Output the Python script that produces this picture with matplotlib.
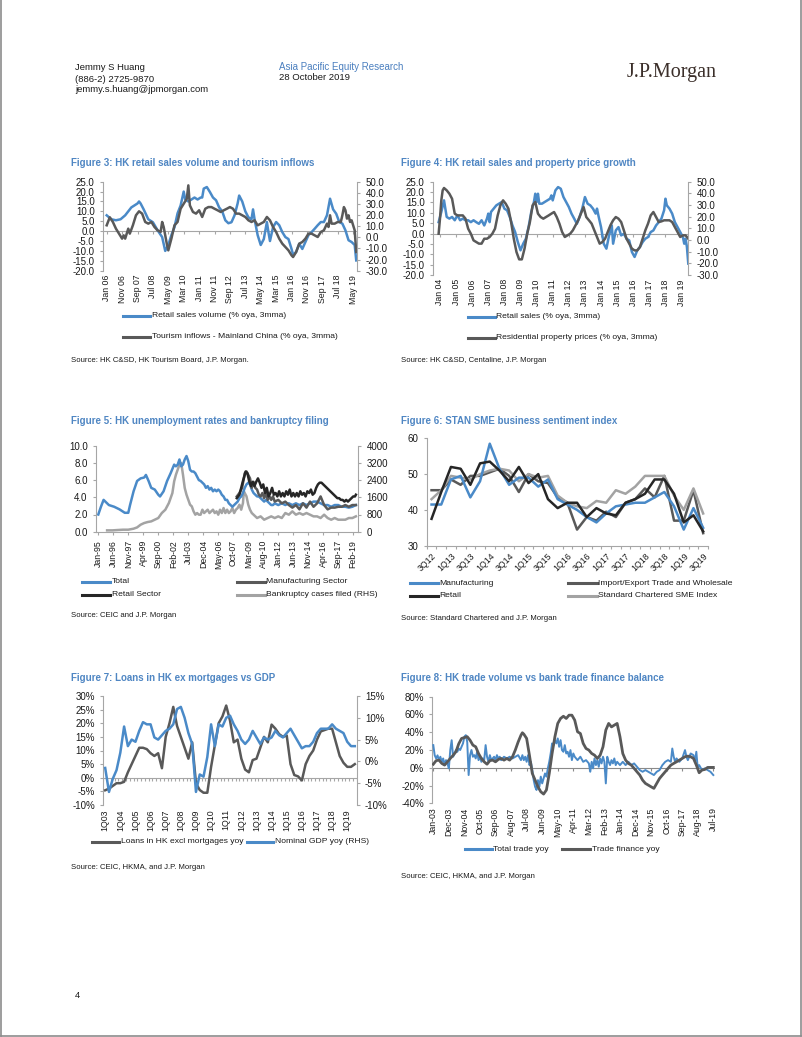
import matplotlib.pyplot as plt
import numpy as np
from matplotlib.lines import Line2D
from matplotlib.ticker import FormatStrFormatter

plt.rcParams['font.family'] = ['Liberation Sans', 'DejaVu Sans']

W, H = 802, 1037
BLUE = '#4a8ac8'
DARK = '#595959'
BLACK = '#262626'
LGREY = '#a3a3a3'
TITLE_BLUE = '#4f86c3'
AXIS_GREY = '#a6a6a6'
TXT = '#1a1a1a'

# ---------------- data ----------------
# Figure 3: months since Jan 2006
fig3_labels = ['Jan 06', 'Nov 06', 'Sep 07', 'Jul 08', 'May 09', 'Mar 10', 'Jan 11', 'Nov 11', 'Sep 12',
               'Jul 13', 'May 14', 'Mar 15', 'Jan 16', 'Nov 16', 'Sep 17', 'Jul 18', 'May 19']
fig3_retail_m = [0, 3, 6, 9, 12, 14, 16, 18, 20, 21, 22, 24, 27, 30, 33, 36, 38, 40, 42, 44, 46, 48, 50, 51,
                 53, 55, 57, 59, 61, 62, 63, 65, 67, 69, 71, 73, 75, 77, 79, 81, 83, 85, 86, 88, 90, 92, 94,
                 95, 96, 98, 100, 102, 104, 105, 106, 108, 110, 112, 114, 116, 118, 120, 121, 123, 125, 127,
                 129, 131, 133, 135, 137, 139, 141, 143, 145, 147, 149, 151, 153, 155, 157, 159, 161, 162]
fig3_retail_v = [8, 6, 5.5, 6, 8, 10, 12, 13, 14, 15, 14, 11, 6, 4.5, 0.5, -3, -10, -7, -2, 2, 9, 13, 20, 16,
                 15, 16, 17, 16, 17, 17, 21.5, 22.3, 19.8, 17, 15.6, 12, 10, 5.5, 4, 4.5, 8, 14, 18, 15, 10,
                 7, 6, 11, 6, -2, -7, -4, 4.6, -0.5, -5, 2, 4.6, 3, -0.5, -3, -4, -9, -12, -10.5, -6.4, -9,
                 -5.5, -2, -0.5, 1.2, 3, 4.6, 4.6, 8, 16.4, 11, 8.8, 4.6, 3.8, 0.4, -4.6, -5.5, -7, -14.8]
fig3_tour_m = [0, 2, 4, 6, 8, 10, 11, 12, 14, 15, 17, 19, 21, 23, 25, 27, 29, 31, 33, 35, 36, 37, 39, 40, 42,
               44, 46, 48, 50, 52, 53, 54, 56, 58, 60, 62, 64, 66, 68, 70, 72, 74, 76, 78, 80, 82, 84, 86,
               88, 90, 92, 94, 96, 98, 100, 102, 104, 106, 108, 110, 112, 114, 116, 118, 120, 121, 123,
               125, 127, 129, 131, 133, 135, 137, 139, 141, 143, 144, 145, 146, 148, 150, 152, 153, 154,
               155, 156, 157, 158, 159, 160, 161, 162]
fig3_tour_v = [10.8, 18, 13.8, 7.8, 3.3, -1.2, 1.8, -1.2, 7.8, 3.3, 10.8, 19.8, 23.4, 21.3, 13.8, 12.3, 13.8,
               9.3, 6.3, 4.8, 13.8, 9.3, -5.7, -11.7, -1.2, 10.8, 13.8, 25.7, 30.2, 34.7, 46.7, 28.7, 22.8,
               21.3, 24.3, 18.3, 25.7, 27.2, 27.2, 25.7, 24.3, 22.8, 24.3, 25.7, 27.2, 25.7, 21.3, 21.3,
               19.8, 18.3, 15.3, 13.8, 15.3, 10.8, 12.3, 13.8, 18.3, 15.3, 9.3, 4.8, -1.2, -5.7, -8.7,
               -11.7, -16.2, -17.7, -13.2, -5.7, -4.2, -1.2, 3.3, 3.3, 1.8, 0.3, 4.8, 6.3, 12.3, 9.3, 19.8,
               12.3, 12.3, 13.8, 13.8, 19.8, 27.2, 24.3, 16.8, 19.8, 13.8, 15.3, 10.8, 6.3, -13.2]

# Figure 4: months since Jan 2004
fig4_labels = ['Jan ' + f'{y:02d}' for y in range(4, 20)]
fig4_retail_m = [-1, 1, 3, 5, 7, 9, 11, 13, 15, 17, 19, 21, 23, 25, 27, 29, 31, 33, 35, 36, 37, 38, 40, 42,
                 44, 46, 48, 50, 52, 54, 56, 58, 60, 62, 64, 66, 68, 70, 71, 72, 73, 74, 76, 78, 80, 82, 83,
                 84, 86, 88, 90, 92, 94, 96, 98, 100, 102, 104, 106, 108, 110, 112, 114, 116, 117, 118, 120,
                 122, 124, 126, 128, 129, 131, 133, 135, 137, 139, 141, 143, 145, 147, 149, 151, 153, 155,
                 157, 159, 161, 163, 165, 167, 168, 169, 171, 173, 175, 177, 179, 181, 182, 183, 184, 185]
fig4_retail_v = [5.5, 10.4, 16, 8, 7.2, 8, 6.4, 8.8, 6.4, 7.2, 6.4, 6.4, 5.5, 6.4, 5.5, 4.7, 6.4, 3.9, 7.2, 9.6,
                 5.5, 10.4, 12, 13.6, 14.4, 15.2, 12, 11.2, 8, 3.9, 0.7, -4.1, -8.1, -4.9, -2.5, 3.1, 10.4,
                 15.2, 19.2, 15.2, 19.2, 14.4, 14.4, 15.2, 16, 16.8, 18.4, 16, 20.8, 22.4, 21.6, 17.6, 15.2,
                 12.8, 9.6, 7.2, 4.7, 8, 12, 17.6, 14.4, 13.6, 12, 9.6, 12, 8.8, 3.1, -4.9, -7.3, -0.9, 3.9,
                 -4.9, 1.5, 3.1, -0.9, -0.1, -2.5, -3.3, -8.9, -11.3, -8.1, -6.5, -4.1, -2.5, -1.7, 0.7, 1.5,
                 3.9, 5.5, 7.2, 11.2, 16.8, 13.6, 12, 9.6, 5.5, 3.1, 0.7, -1.7, -4.9, -2.5, -6.5, -14.5]
fig4_prop_m = [-1, 0, 1, 2, 3, 5, 7, 9, 11, 13, 15, 17, 19, 21, 23, 25, 27, 29, 31, 33, 35, 37, 39, 41, 43, 45,
               47, 49, 51, 53, 55, 57, 59, 61, 63, 65, 67, 69, 71, 73, 75, 77, 79, 81, 83, 85, 87, 89, 91,
               93, 95, 97, 99, 101, 103, 105, 107, 109, 111, 113, 115, 117, 119, 121, 123, 125, 127, 129,
               131, 133, 135, 137, 139, 141, 143, 145, 147, 149, 151, 153, 155, 157, 159, 161, 163, 165,
               167, 169, 171, 173, 175, 177, 179, 181, 183, 185]
fig4_prop_v = [5.4, 18.3, 34, 42.6, 44.6, 42.6, 39.7, 35.4, 22.6, 21.1, 21.1, 21.1, 18.3, 9.7, 5.4, -0.3, -1.7,
               -3.1, -3.1, 1.1, 1.1, 2.6, 5.4, 9.7, 21.1, 29.7, 34, 31.1, 26.9, 15.4, 1.1, -10.3, -16.6,
               -16.6, -7.4, 5.4, 15.4, 29.7, 32.6, 22.6, 19.7, 18.3, 19.7, 21.1, 22.6, 24, 19.7, 14, 6.9,
               2.6, 4, 5.4, 8.3, 12.6, 16.9, 22.6, 28.3, 19.7, 16.9, 14, 8.3, 2.6, -3.1, -1.7, 1.1, 6.9,
               12.6, 16.9, 19.7, 18.3, 15.4, 8.3, 1.1, -3.1, -7.4, -8.9, -8.9, -6, 1.1, 8.3, 14, 21.1, 24,
               19.7, 15.4, 16, 16.9, 16.9, 16.9, 15.4, 11.1, 6.9, 2.6, 4, 4, 1.1]

# Figure 5: months since Jan 1995
fig5_labels = ['Jan-95', 'Jun-96', 'Nov-97', 'Apr-99', 'Sep-00', 'Feb-02', 'Jul-03', 'Dec-04', 'May-06',
               'Oct-07', 'Mar-09', 'Aug-10', 'Jan-12', 'Jun-13', 'Nov-14', 'Apr-16', 'Sep-17', 'Feb-19']
fig5_total_m = [0, 3, 6, 12, 18, 24, 30, 34, 36, 40, 44, 48, 52, 54, 57, 60, 64, 68, 70, 74, 78, 82, 86, 88,
                90, 92, 94, 96, 98, 100, 102, 104, 106, 108, 110, 112, 114, 116, 118, 120, 122, 124, 126,
                128, 130, 132, 134, 136, 138, 140, 142, 144, 146, 148, 150, 152, 154, 156, 158, 160, 162,
                164, 166, 168, 170, 172, 174, 176, 178, 180, 182, 184, 186, 188, 190, 192, 194, 196, 198,
                200, 204, 208, 212, 216, 220, 224, 228, 232, 236, 240, 244, 248, 252, 256, 260, 264, 268,
                272, 276, 280, 284, 288, 292]
fig5_total_v = [2.0, 2.9, 3.7, 3.1, 2.9, 2.6, 2.2, 2.2, 3.1, 4.7, 5.9, 6.2, 6.3, 6.6, 5.9, 5.1, 4.9, 4.3, 4.1,
                4.7, 5.9, 6.8, 7.8, 7.6, 7.8, 8.4, 7.6, 7.8, 8.4, 8.8, 8.2, 7.2, 7.0, 7.0, 6.8, 6.4, 6.0,
                5.9, 5.7, 5.5, 5.1, 5.3, 4.9, 5.1, 4.7, 4.9, 4.7, 4.9, 4.7, 4.3, 4.1, 3.7, 3.7, 3.3, 3.1,
                2.9, 3.1, 3.3, 3.5, 3.9, 4.1, 4.5, 5.1, 5.5, 5.7, 5.5, 4.9, 4.5, 4.3, 4.1, 4.1, 3.9, 3.7,
                3.5, 3.7, 3.5, 3.3, 3.1, 3.1, 3.3, 3.1, 3.3, 3.1, 3.3, 3.1, 3.3, 3.1, 3.3, 3.1, 3.3, 3.5,
                3.5, 3.3, 3.1, 3.1, 2.9, 3.1, 3.1, 2.9, 2.9, 2.8, 2.9, 3.1]
fig5_manu_m = [157, 160, 163, 165, 166, 168, 170, 172, 174, 176, 178, 180, 182, 184, 186, 188, 190, 192, 194,
               196, 198, 200, 204, 208, 212, 216, 220, 224, 228, 232, 236, 240, 244, 248, 252, 256, 260,
               264, 268, 272, 276, 280, 284, 288, 292]
fig5_manu_v = [4.1, 4.5, 5.1, 6.2, 6.8, 7.0, 6.6, 6.2, 5.1, 5.8, 5.1, 4.9, 4.3, 4.1, 4.5, 3.9, 4.5, 3.7, 4.1,
               3.7, 4.1, 3.5, 3.7, 3.3, 3.5, 3.1, 2.8, 3.1, 2.6, 3.3, 2.8, 3.5, 2.9, 3.3, 4.1, 3.1, 2.6,
               2.8, 2.8, 2.9, 2.9, 3.1, 2.9, 3.1, 3.1]
fig5_retail_m = [157, 160, 162, 164, 166, 167, 169, 171, 173, 175, 177, 179, 181, 183, 185, 187, 189, 191,
                 193, 195, 197, 199, 201, 203, 205, 207, 209, 211, 213, 215, 217, 219, 221, 223, 225, 227,
                 229, 231, 233, 235, 237, 239, 241, 243, 245, 247, 249, 251, 253, 255, 257, 259, 261, 263,
                 265, 267, 269, 271, 273, 275, 277, 279, 281, 283, 285, 287, 289, 291, 292]
fig5_retail_v = [3.9, 4.3, 5.1, 5.9, 6.6, 7.0, 6.8, 5.9, 5.3, 5.8, 5.3, 5.8, 6.2, 5.7, 5.1, 5.5, 4.5, 5.1, 4.1,
                 4.5, 5.1, 4.3, 4.5, 4.1, 4.7, 4.1, 4.5, 4.1, 4.7, 4.3, 4.9, 4.1, 4.5, 4.1, 4.5, 4.1, 4.7,
                 4.3, 4.5, 4.1, 4.7, 4.5, 4.9, 4.3, 4.5, 5.1, 5.5, 5.7, 5.7, 5.5, 5.3, 5.1, 4.9, 4.7, 4.5,
                 4.3, 4.1, 3.9, 3.9, 3.7, 3.7, 3.5, 3.7, 3.5, 3.7, 3.9, 4.1, 4.1, 4.3]
fig5_bank_m = [10, 16, 22, 28, 34, 40, 44, 48, 52, 56, 60, 64, 68, 72, 76, 80, 84, 86, 88, 90, 92, 94, 96, 98,
               100, 102, 104, 106, 108, 110, 112, 114, 116, 118, 120, 122, 124, 126, 128, 130, 132, 134,
               136, 138, 140, 142, 144, 146, 148, 150, 152, 154, 156, 158, 160, 162, 164, 165, 166, 168,
               170, 172, 174, 176, 178, 180, 184, 188, 192, 196, 200, 204, 208, 212, 216, 220, 224, 228,
               232, 236, 240, 244, 248, 252, 256, 260, 264, 268, 272, 276, 280, 284, 288, 292]
fig5_bank_v = [62, 62, 78, 93, 93, 140, 200, 326, 403, 450, 480, 558, 636, 868, 1023, 1333, 1798, 2341, 2651,
               2884, 3116, 3194, 2651, 2031, 1721, 1488, 1256, 1178, 946, 791, 868, 791, 791, 1023, 868,
               946, 1023, 868, 946, 1023, 868, 946, 791, 1023, 868, 1101, 868, 1023, 868, 946, 1101, 868,
               1023, 1101, 1256, 1023, 1333, 1876, 1798, 1643, 1256, 1023, 868, 791, 713, 636, 713, 558,
               636, 713, 636, 713, 636, 868, 791, 946, 791, 868, 791, 868, 791, 713, 713, 636, 791, 636,
               558, 636, 558, 558, 558, 636, 636, 713]

# Figure 6: quarterly, 3Q12 to 3Q19
fig6_quarters = [f'{q}Q{y:02d}' for y in range(12, 20) for q in range(1, 5)][2:31]
fig6_manu = [41.5, 41.5, 48.5, 49.5, 43.5, 48, 58.5, 51.5, 47, 49, 49, 46.5, 48.5, 43, 41.5, 40, 38, 36.5,
             39, 41, 41.5, 42, 42, 43.5, 45, 41, 34.5, 40.5, 35]
fig6_trade = [45.5, 45.5, 48.5, 47, 49.5, 49.5, 50.5, 51.5, 49.5, 45, 50, 48, 47.5, 43.5, 42, 34.5, 38, 37,
              39.5, 38, 42, 43, 46, 43.5, 49.5, 37, 37, 45.5, 33.5]
fig6_retail = [37.5, 45, 52, 51.5, 47, 53, 53.5, 51, 48, 52, 47.5, 50, 43, 40.5, 42, 42, 38, 40.5, 39, 38.5,
               42, 43, 44.5, 48.5, 48.5, 44.5, 36.5, 38.5, 34]
fig6_sme = [43, 45.5, 49.5, 49, 48.5, 50, 51, 51.5, 51, 48, 50, 49, 49.5, 44, 42, 41, 40.5, 42.5, 42, 45.5,
            44.5, 46.5, 49.5, 49.5, 49.5, 44, 40, 46, 39]

# Figure 7: quarterly, 1Q03 to 3Q19
fig7_quarters = [f'{q}Q{y:02d}' for y in range(3, 20) for q in range(1, 5)][:67]
fig7_loans = [-4.6, -4, -3, -2, -2, -1.5, 2, 5, 8, 11, 11, 10.5, 9, 8, 9, 3.5, 15, 20, 26, 19, 15, 11, 7, 13,
              -2, -4.5, -5.5, -5.5, 4, 12, 20, 22.5, 26.5, 21, 13, 14, 7, 3, 2, 6.5, 7, 11, 15, 13, 19.5, 18,
              16, 15, 15.5, 5, 1, 0.5, -1, 5, 8, 10, 14, 17, 17.5, 18, 18, 13, 8, 5.5, 4, 4, 5]
fig7_gdp = [-1.5, -7, -4, -2, 2, 8, 3.5, 5, 4.5, 7, 9, 8.5, 8.5, 5.5, 5, 6, 7, 7.5, 8.5, 12, 12.5, 10, 6.5, 4,
            -7, -3, -3.5, 1, 8.5, 3.5, 8.5, 8, 10, 10.5, 8.5, 7, 5, 4, 5, 7, 5.5, 4, 5.5, 5, 5.5, 7, 6, 5.5,
            6.5, 7.5, 6, 4.5, 3, 3.5, 3.5, 4.5, 6.5, 7.5, 7.5, 7.5, 8.5, 7.5, 7, 6.5, 4.5, 3.5, 3.5]

# Figure 8: months since Jan 2003
fig8_labels = ['Jan-03', 'Dec-03', 'Nov-04', 'Oct-05', 'Sep-06', 'Aug-07', 'Jul-08', 'Jun-09', 'May-10',
               'Apr-11', 'Mar-12', 'Feb-13', 'Jan-14', 'Dec-14', 'Nov-15', 'Oct-16', 'Sep-17', 'Aug-18',
               'Jul-19']
fig8_trade_m = [0, 1, 2, 3, 4, 5, 6, 7, 8, 9, 10, 11, 12, 13, 14, 15, 16, 17, 18, 19, 20, 21, 22, 23, 24, 25,
                26, 27, 28, 29, 30, 31, 32, 33, 34, 35, 36, 37, 38, 39, 40, 41, 42, 43, 44, 45, 46, 47, 48,
                50, 52, 54, 56, 58, 60, 62, 63, 64, 65, 66, 67, 68, 69, 70, 71, 72, 73, 74, 75, 76, 77, 78,
                79, 80, 81, 82, 83, 84, 85, 86, 87, 88, 89, 90, 91, 92, 93, 94, 95, 96, 97, 98, 99, 100,
                102, 104, 106, 108, 110, 111, 112, 113, 114, 115, 116, 117, 118, 119, 120, 121, 122, 123,
                124, 125, 126, 127, 128, 129, 130, 132, 134, 136, 138, 140, 142, 144, 146, 148, 150, 152,
                154, 156, 158, 160, 162, 164, 166, 168, 169, 170, 171, 172, 174, 176, 178, 179, 180, 182,
                184, 185, 186, 187, 188, 190, 192, 194, 196, 198]
fig8_trade_v = [25.5, 14, 10.5, 14, 8.6, 12.4, 6.7, 10.5, 3, 8.6, 4.9, -0.7, 19.9, 31, 12.4, 16, 20, 18, 21.7,
                20, 23.6, 27.4, 35, 36.7, 29, -8.2, 14.2, 20, 12.4, 14.2, 10.5, 18, 8.6, 12.4, 6.7, 10.5,
                8.6, 25.5, 12.4, 6.7, 14.2, 8.6, 10.5, 12.4, 8.6, 14.2, 10.5, 12.4, 8.6, 12.4, 10.5, 12.4,
                10.5, 12.4, 14.2, 8.6, 14.2, 8.6, 12.4, 6.7, 14.2, 3, 6.7, -2.6, -13.9, -21.4, -25, -13.9,
                -21.4, -10, -17.6, -12, -6.4, -10, -0.7, 6.7, 16.1, 27.4, 25.5, 31.1, 27.4, 33, 23.6, 31.1,
                19.9, 18, 25.5, 16.1, 18, 12.4, 19.9, 8.6, 16.1, 12.4, 8.6, 12.4, 6.7, 8.6, 4.9, -4.5, 6.7,
                -0.7, 10.5, 3, 8.6, 1.1, 10.5, 4.9, 12.4, 6.7, -17.6, 12.4, 6.7, 3, 8.6, 4.9, 10.5, 3, 6.7,
                3, 6.7, 3, 6.7, 3, 4.9, 1.1, -2.6, -4.5, -2.6, -4.5, -6.4, -8.2, -4.5, -2.6, 3, 6.7, 8.6,
                6.7, 21.7, 12.4, 6.7, 10.5, 6.7, 10.5, 19.9, 12.4, 8.6, 16.1, 14.2, 6.7, 18, -0.7, 3, -2.6,
                -0.7, -2.6, -4.5, -8.2]
fig8_fin_m = [0, 2, 4, 6, 8, 10, 12, 14, 16, 18, 20, 22, 24, 26, 28, 30, 32, 34, 36, 38, 40, 42, 44, 46, 48,
              50, 52, 54, 56, 58, 60, 62, 63, 64, 66, 68, 70, 72, 74, 76, 78, 80, 82, 84, 86, 88, 90, 92, 94,
              96, 98, 100, 102, 104, 106, 108, 110, 112, 114, 116, 118, 120, 122, 124, 126, 128, 130, 132,
              134, 136, 138, 140, 142, 144, 146, 148, 150, 152, 154, 156, 158, 160, 162, 164, 166, 168, 170,
              172, 174, 176, 178, 180, 182, 184, 186, 188, 190, 192, 194, 196, 198]
fig8_fin_v = [4, 8, 8.6, 4.9, 3, 6.7, 10.5, 14, 18, 27, 33, 34, 35, 31, 25.5, 23.6, 16, 10.5, 6.7, 4, 8, 8.6,
              6.7, 9.4, 10.5, 8.6, 10.5, 8.6, 12.4, 20, 29, 36.7, 39.4, 37.9, 33, 14, -6.4, -13.9, -21.4, -27,
              -29.6, -25, -6.4, 16, 35, 49.9, 55.5, 58, 55.5, 59.2, 59.2, 53.6, 40.5, 38.6, 27.4, 21.7, 19.9,
              16.1, 14.2, 10.5, 14.2, 23.6, 42.4, 49.9, 46, 48, 49.9, 35, 16, 8.6, 4.9, 3, -0.7, -4.5, -8.2,
              -13.9, -17.6, -19.5, -21.4, -23.2, -17.6, -12, -8.2, -4.5, -0.7, 3, 4.9, 6.7, 8.6, 10.5, 12.4,
              13.1, 12.4, 10.5, 3, -5.6, -2.6, -1.9, 0.4, 0.4, 0.4]

# ---------------- drawing ----------------
fig = plt.figure(figsize=(W / 100, H / 100), dpi=100)


def fig_text(x, y, s, **kw):
    kw.setdefault('va', 'center')
    kw.setdefault('ha', 'left')
    kw.setdefault('color', TXT)
    fig.text(x / W, 1 - y / H, s, **kw)


def legend_item(x0, x1, y, color, label, lw=2.2):
    fig.add_artist(Line2D([x0 / W, x1 / W], [1 - y / H, 1 - y / H], color=color, lw=lw))
    fig_text(x1 + 1.5, y, label, fontsize=6.1)


def make_axes(l, t, r, b):
    ax = fig.add_axes([l / W, 1 - b / H, (r - l) / W, (b - t) / H])
    ax.spines['top'].set_visible(False)
    ax.spines['right'].set_visible(False)
    for s in ['left', 'bottom']:
        ax.spines[s].set_color(AXIS_GREY)
        ax.spines[s].set_linewidth(0.8)
    ax.tick_params(colors=AXIS_GREY, labelcolor=TXT, labelsize=7, length=2.5, width=0.8)
    return ax


def make_twin(ax):
    ax2 = ax.twinx()
    for s in ['top', 'left', 'bottom']:
        ax2.spines[s].set_visible(False)
    ax2.spines['right'].set_color(AXIS_GREY)
    ax2.spines['right'].set_linewidth(0.8)
    ax2.tick_params(colors=AXIS_GREY, labelcolor=TXT, labelsize=7, length=2.5, width=0.8)
    return ax2


def zero_line(ax, ticks, color=AXIS_GREY):
    ax.spines['bottom'].set_visible(False)
    ax.axhline(0, color=color, lw=0.8, zorder=1)
    ax.plot(ticks, np.zeros(len(ticks)), ls='none', marker=3, ms=2.5, mew=0.8, color=color, zorder=1)


def bottom_labels(ax, ticks, labels, size=6.3):
    ax.set_xticks(ticks)
    ax.set_xticklabels(labels, rotation=90, fontsize=size)
    ax.tick_params(axis='x', length=0, pad=3)


# header
fig_text(75, 68, 'Jemmy S Huang', fontsize=6.8)
fig_text(75, 79, '(886-2) 2725-9870', fontsize=6.8)
fig_text(75, 90, 'jemmy.s.huang@jpmorgan.com', fontsize=6.8)
fig_text(279, 67, 'Asia Pacific Equity Research', fontsize=7, color='#4a7fbf')
fig_text(279, 78, '28 October 2019', fontsize=6.8)
fig_text(627, 72, 'J.P.Morgan', fontsize=14.5, color='#3b2f2a', family=['Liberation Serif', 'DejaVu Serif'])
fig_text(75, 995, '4', fontsize=6.8)
for xs, ys in [([1, 1], [0, 1036]), ([800.5, 800.5], [0, 1036]), ([1, 800.5], [1035.5, 1035.5])]:
    fig.add_artist(Line2D([x / W for x in xs], [1 - y / H for y in ys], color='#8c8c8c', lw=1.2))

title_kw = dict(fontsize=7, fontweight='bold', color=TITLE_BLUE)
src_kw = dict(fontsize=5.6)

# ---- Figure 3 ----
fig_text(71, 163, 'Figure 3: HK retail sales volume and tourism inflows', **title_kw)
ax = make_axes(103, 181.7, 357, 270.7)
ticks3 = np.arange(0, 161, 10)
zero_line(ax, ticks3)
ax.plot(fig3_retail_m, fig3_retail_v, color=BLUE, lw=1.8, zorder=3)
ax.set_ylim(-20, 25)
ax.set_yticks(np.arange(-20, 26, 5))
ax.yaxis.set_major_formatter(FormatStrFormatter('%.1f'))
ax.set_xlim(-2.4, 162.5)
bottom_labels(ax, ticks3, fig3_labels)
ax2 = make_twin(ax)
ax2.plot(fig3_tour_m, fig3_tour_v, color=DARK, lw=1.8)
ax2.set_ylim(-30, 50)
ax2.set_yticks(np.arange(-30, 51, 10))
ax2.yaxis.set_major_formatter(FormatStrFormatter('%.1f'))
legend_item(123, 150, 315.7, BLUE, 'Retail sales volume (% oya, 3mma)')
legend_item(123, 150, 337, DARK, 'Tourism inflows - Mainland China (% oya, 3mma)')
fig_text(71, 360.7, 'Source: HK C&SD, HK Tourism Board, J.P. Morgan.', **src_kw)

# ---- Figure 4 ----
fig_text(401, 163, 'Figure 4: HK retail sales and property price growth', **title_kw)
ax = make_axes(433, 181.7, 688, 275)
ticks4 = np.arange(0, 181, 12)
zero_line(ax, ticks4)
ax.plot(fig4_retail_m, fig4_retail_v, color=BLUE, lw=1.8, zorder=3)
ax.set_ylim(-20, 25)
ax.set_yticks(np.arange(-20, 26, 5))
ax.yaxis.set_major_formatter(FormatStrFormatter('%.1f'))
ax.set_xlim(-5.2, 184.8)
bottom_labels(ax, ticks4, fig4_labels)
ax2 = make_twin(ax)
ax2.plot(fig4_prop_m, fig4_prop_v, color=DARK, lw=1.8)
ax2.set_ylim(-30, 50)
ax2.set_yticks(np.arange(-30, 51, 10))
ax2.yaxis.set_major_formatter(FormatStrFormatter('%.1f'))
legend_item(468, 495, 316.7, BLUE, 'Retail sales (% oya, 3mma)')
legend_item(468, 495, 337.7, DARK, 'Residential property prices (% oya, 3mma)')
fig_text(401, 361, 'Source: HK C&SD, Centaline, J.P. Morgan', **src_kw)

# ---- Figure 5 ----
fig_text(71, 421, 'Figure 5: HK unemployment rates and bankruptcy filing', **title_kw)
ax = make_axes(96, 445.7, 358, 531.7)
ticks5 = np.arange(0, 290, 17)
ax.set_ylim(0, 10)
ax.set_yticks(np.arange(0, 11, 2))
ax.yaxis.set_major_formatter(FormatStrFormatter('%.1f'))
ax.set_xlim(-2.6, 294.4)
ax.set_xticks(ticks5)
ax.set_xticklabels(fig5_labels, rotation=90, fontsize=6.3)
ax2 = make_twin(ax)
ax2.plot(fig5_bank_m, fig5_bank_v, color=LGREY, lw=1.8)
ax2.set_ylim(0, 4000)
ax2.set_yticks(np.arange(0, 4001, 800))
ax.set_zorder(ax2.get_zorder() + 1)
ax.patch.set_visible(False)
ax.plot(fig5_total_m, fig5_total_v, color=BLUE, lw=1.8)
ax.plot(fig5_manu_m, fig5_manu_v, color=DARK, lw=1.8)
ax.plot(fig5_retail_m, fig5_retail_v, color=BLACK, lw=1.8)
legend_item(82, 110, 581.7, BLUE, 'Total')
legend_item(82, 110, 595, BLACK, 'Retail Sector')
legend_item(237, 265, 581.7, DARK, 'Manufacturing Sector')
legend_item(237, 265, 595, LGREY, 'Bankruptcy cases filed (RHS)')
fig_text(71, 615.7, 'Source: CEIC and J.P. Morgan', **src_kw)

# ---- Figure 6 ----
fig_text(401, 421, 'Figure 6: STAN SME business sentiment index', **title_kw)
ax = make_axes(426.7, 438.3, 708, 545.7)
x6 = np.arange(len(fig6_quarters))
ax.plot(x6, fig6_trade, color=DARK, lw=1.8)
ax.plot(x6, fig6_sme, color=LGREY, lw=1.8)
ax.plot(x6, fig6_manu, color=BLUE, lw=1.8)
ax.plot(x6, fig6_retail, color=BLACK, lw=1.8)
ax.set_ylim(30, 60)
ax.set_yticks([30, 40, 50, 60])
ax.set_xlim(-0.5, len(x6) - 0.5)
ax.set_xticks(x6[::2])
ax.set_xticklabels(fig6_quarters[::2], rotation=45, ha='right', rotation_mode='anchor', fontsize=6.3)
ax.set_xticks(np.arange(-0.5, len(x6), 1), minor=True)
ax.tick_params(axis='x', which='major', length=0, pad=4)
ax.tick_params(axis='x', which='minor', length=2.5, width=0.8, colors=AXIS_GREY)
legend_item(410, 438, 583.3, BLUE, 'Manufacturing')
legend_item(410, 438, 595.7, BLACK, 'Retail')
legend_item(568, 597, 583.3, DARK, 'Import/Export Trade and Wholesale')
legend_item(568, 597, 595.7, LGREY, 'Standard Chartered SME Index')
fig_text(401, 619, 'Source: Standard Chartered and J.P. Morgan', **src_kw)

# ---- Figure 7 ----
fig_text(71, 678.3, 'Figure 7: Loans in HK ex mortgages vs GDP', **title_kw)
ax = make_axes(103.3, 696, 356.7, 805)
x7 = np.arange(len(fig7_quarters))
zero_line(ax, np.arange(-0.5, len(x7), 1))
ax.plot(x7, fig7_loans, color=DARK, lw=1.8, zorder=3)
ax.set_ylim(-10, 30)
ax.set_yticks(np.arange(-10, 31, 5))
ax.yaxis.set_major_formatter(FormatStrFormatter('%d%%'))
ax.set_xlim(-0.5, len(x7) - 0.5)
bottom_labels(ax, x7[::4], fig7_quarters[::4])
ax2 = make_twin(ax)
ax2.plot(x7, fig7_gdp, color=BLUE, lw=1.8)
ax2.set_ylim(-10, 15)
ax2.set_yticks(np.arange(-10, 16, 5))
ax2.yaxis.set_major_formatter(FormatStrFormatter('%d%%'))
legend_item(92, 119.3, 841.7, DARK, 'Loans in HK excl mortgages yoy')
legend_item(247, 273.3, 841.7, BLUE, 'Nominal GDP yoy (RHS)')
fig_text(71, 867.7, 'Source: CEIC, HKMA, and J.P. Morgan', **src_kw)

# ---- Figure 8 ----
fig_text(401, 678.3, 'Figure 8: HK trade volume vs bank trade finance balance', **title_kw)
ax = make_axes(432.3, 696.7, 715, 803.3)
ticks8 = np.arange(0, 199, 11)
zero_line(ax, ticks8, color='#8a8a8a')
ax.plot(fig8_trade_m, fig8_trade_v, color=BLUE, lw=1.4, zorder=3)
ax.plot(fig8_fin_m, fig8_fin_v, color=DARK, lw=2.0, zorder=4)
ax.set_ylim(-40, 80)
ax.set_yticks(np.arange(-40, 81, 20))
ax.yaxis.set_major_formatter(FormatStrFormatter('%d%%'))
ax.set_xlim(-0.7, 199.2)
bottom_labels(ax, ticks8, fig8_labels)
legend_item(465, 491.7, 849.3, BLUE, 'Total trade yoy')
legend_item(562, 590, 849.3, DARK, 'Trade finance yoy')
fig_text(401, 876, 'Source: CEIC, HKMA, and J.P. Morgan', **src_kw)

fig.savefig('out.png', dpi=100)
plt.close(fig)
